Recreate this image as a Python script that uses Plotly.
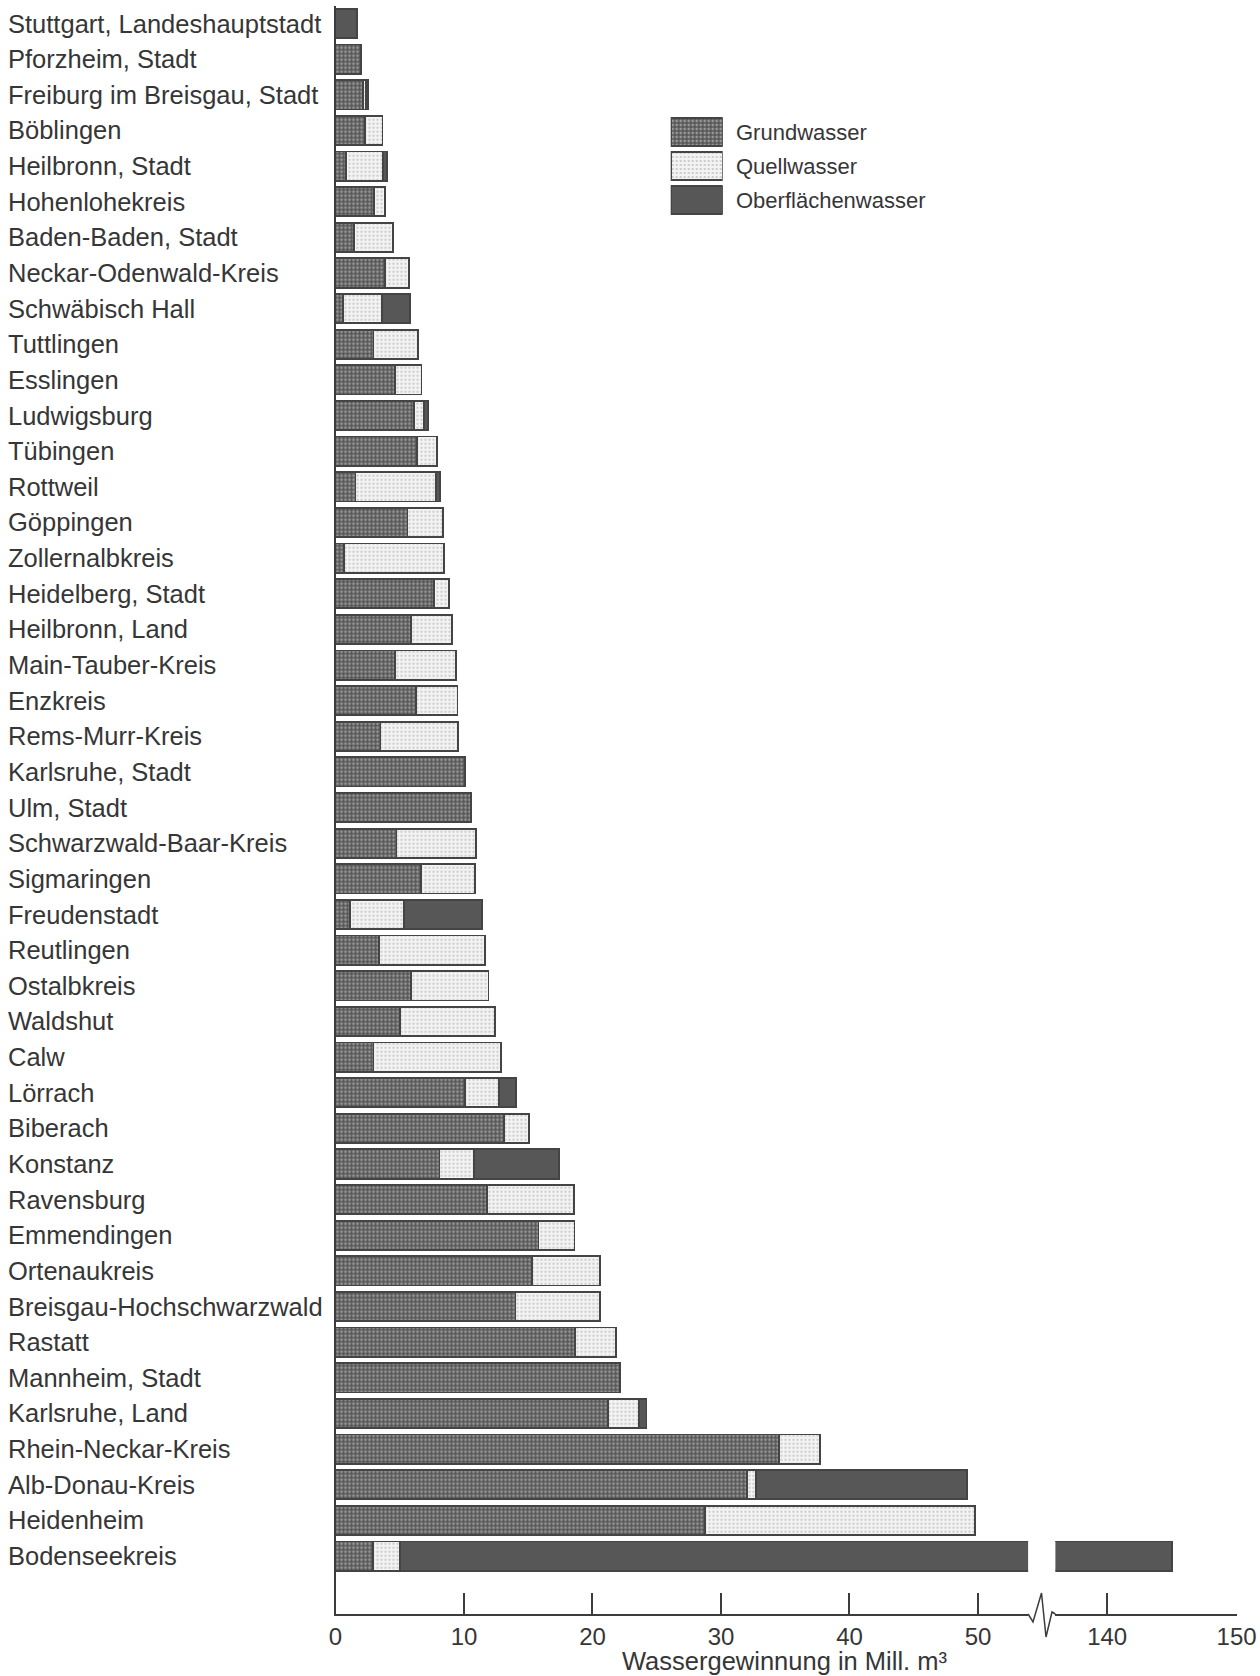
import plotly.graph_objects as go

# ---------------- data ----------------
districts = [
    "Stuttgart, Landeshauptstadt", "Pforzheim, Stadt", "Freiburg im Breisgau, Stadt",
    "Böblingen", "Heilbronn, Stadt", "Hohenlohekreis", "Baden-Baden, Stadt",
    "Neckar-Odenwald-Kreis", "Schwäbisch Hall", "Tuttlingen", "Esslingen",
    "Ludwigsburg", "Tübingen", "Rottweil", "Göppingen", "Zollernalbkreis",
    "Heidelberg, Stadt", "Heilbronn, Land", "Main-Tauber-Kreis", "Enzkreis",
    "Rems-Murr-Kreis", "Karlsruhe, Stadt", "Ulm, Stadt", "Schwarzwald-Baar-Kreis",
    "Sigmaringen", "Freudenstadt", "Reutlingen", "Ostalbkreis", "Waldshut", "Calw",
    "Lörrach", "Biberach", "Konstanz", "Ravensburg", "Emmendingen", "Ortenaukreis",
    "Breisgau-Hochschwarzwald", "Rastatt", "Mannheim, Stadt", "Karlsruhe, Land",
    "Rhein-Neckar-Kreis", "Alb-Donau-Kreis", "Heidenheim", "Bodenseekreis",
]

grundwasser = [
    0, 2.0, 2.15, 2.3, 0.8, 3.0, 1.45, 3.85, 0.6, 2.95, 4.6,
    6.1, 6.35, 1.55, 5.6, 0.65, 7.65, 5.9, 4.6, 6.25, 3.5,
    10.1, 10.55, 4.75, 6.65, 1.15, 3.4, 5.85, 5.0, 2.95, 10.1,
    13.1, 8.1, 11.8, 15.8, 15.3, 14.0, 18.65, 22.15, 21.2, 34.5,
    32.0, 28.75, 2.9,
]
quellwasser = [
    0, 0, 0.2, 1.35, 2.9, 0.85, 3.0, 1.85, 3.0, 3.45, 2.1,
    0.8, 1.55, 6.3, 2.75, 7.8, 1.2, 3.15, 4.8, 3.25, 6.05,
    0, 0, 6.2, 4.2, 4.15, 8.25, 6.05, 7.4, 9.95, 2.65,
    1.95, 2.7, 6.75, 2.8, 5.3, 6.6, 3.2, 0, 2.4, 3.2,
    0.75, 21.0, 2.1,
]
oberflaechenwasser = [
    1.65, 0, 0.2, 0, 0.3, 0, 0, 0, 2.2, 0, 0,
    0.3, 0, 0.3, 0, 0, 0, 0, 0, 0, 0,
    0, 0, 0, 0, 6.1, 0, 0, 0, 0, 1.3,
    0, 6.6, 0, 0, 0, 0, 0, 0, 0.6, 0,
    16.4, 0, 140.0,
]

series_names = ["Grundwasser", "Quellwasser", "Oberflächenwasser"]
x_ticks_left = [0, 10, 20, 30, 40, 50]
x_ticks_right = [140, 150]
axis_title = "Wassergewinnung in Mill. m³"

# ---------------- styling ----------------
W, H = 1260, 1676
FONT = "Liberation Sans, Arial, sans-serif"
TXT = "#363636"
LINE = "#3c3c3c"
OUTLINE = dict(color="#444444", width=1.8)

styles = {
    "Grundwasser": dict(color="#545454",
                        pattern=dict(shape=".", fillmode="overlay", fgcolor="#dcdcdc",
                                     size=4, solidity=0.38)),
    "Quellwasser": dict(color="#f3f3f3",
                        pattern=dict(shape=".", fillmode="overlay", fgcolor="#8a8a8a",
                                     size=4, solidity=0.2)),
    "Oberflächenwasser": dict(color="#575757"),
}

def px_x(p):
    return p / W

def px_y(p):
    return 1 - p / H

# pixel geometry of the broken axis
x0_px, left_end_px = 335.5, 1028.1
right_start_px, right_end_px = 1055.4, 1236.6
left_max = 53.9
right_min, right_max = 136, 150
top_px, axis_px = 5.7, 1614
row = 35.64
y_bottom = (axis_px - 23.5) / row

fig = go.Figure()

def clean(vals):
    return [v if v > 0 else None for v in vals]

values = {"Grundwasser": grundwasser, "Quellwasser": quellwasser,
          "Oberflächenwasser": oberflaechenwasser}

for xa in ["x", "x2"]:
    for name in series_names:
        st = styles[name]
        fig.add_trace(go.Bar(
            y=districts, x=clean(values[name]), orientation="h", name=name,
            xaxis=xa, yaxis="y", showlegend=False,
            marker=dict(color=st["color"], pattern=st.get("pattern"), line=OUTLINE),
            hovertemplate="%{y}: %{x}<extra>" + name + "</extra>",
        ))

# custom legend (large swatches) drawn as a small bar subplot
for name in series_names:
    st = styles[name]
    fig.add_trace(go.Bar(
        y=[name], x=[1], orientation="h", xaxis="x3", yaxis="y3", showlegend=False,
        marker=dict(color=st["color"], pattern=st.get("pattern"), line=OUTLINE),
        hoverinfo="skip",
    ))

axis_common = dict(
    showline=True, linecolor=LINE, linewidth=1.5, ticks="inside", ticklen=21,
    tickwidth=1.5, tickcolor=LINE, showgrid=False, zeroline=False, automargin=False,
    tickfont=dict(family=FONT, size=24, color=TXT), ticklabelstandoff=0,
)

leg_top, leg_bot = 115.0, 217.4

fig.update_layout(
    width=W, height=H, autosize=False,
    margin=dict(l=0, r=0, t=0, b=0, pad=0, autoexpand=False),
    paper_bgcolor="white", plot_bgcolor="white", showlegend=False,
    barmode="stack", bargap=0.18,
    font=dict(family=FONT, color=TXT),
    xaxis=dict(domain=[px_x(x0_px), px_x(left_end_px)], range=[0, left_max],
               tickvals=x_ticks_left, anchor="y", **axis_common),
    xaxis2=dict(domain=[px_x(right_start_px), px_x(right_end_px)],
                range=[right_min, right_max], tickvals=x_ticks_right, anchor="y",
                **axis_common),
    yaxis=dict(domain=[px_y(axis_px), px_y(top_px)], range=[y_bottom, -0.5],
               categoryorder="array", categoryarray=districts, showticklabels=False,
               showline=True, linecolor=LINE, linewidth=1.5, ticks="",
               showgrid=False, zeroline=False, anchor="x", automargin=False),
    xaxis3=dict(domain=[px_x(670.7), px_x(722.7)], range=[0, 1], visible=False,
                anchor="y3"),
    yaxis3=dict(domain=[px_y(leg_bot), px_y(leg_top)], range=[2.5, -0.5],
                categoryorder="array", categoryarray=series_names, visible=False,
                anchor="x3"),
)

annotations = []
for d in districts:
    annotations.append(dict(
        x=px_x(7), xref="paper", y=d, yref="y", xanchor="left", yanchor="middle",
        text=d, showarrow=False, borderpad=0,
        font=dict(family=FONT, size=25.5, color=TXT),
    ))
for name in series_names:
    annotations.append(dict(
        x=px_x(735), xref="paper", y=name, yref="y3", xanchor="left",
        yanchor="middle", text=name, showarrow=False, borderpad=0,
        font=dict(family=FONT, size=22, color=TXT),
    ))
annotations.append(dict(
    x=px_x(784), xref="paper", y=0, yref="paper", xanchor="center",
    yanchor="bottom", text=axis_title, showarrow=False, borderpad=0,
    font=dict(family=FONT, size=25.5, color=TXT),
))
fig.update_layout(annotations=annotations)

# zig-zag break marker on the x axis line
zz = [(left_end_px, axis_px), (1033.0, 1622), (1041.5, 1593), (1046.0, 1637),
      (1052.0, 1612), (right_start_px, axis_px)]
path = "M " + " L ".join(f"{px_x(a):.5f},{px_y(b):.5f}" for a, b in zz)
fig.add_shape(type="path", path=path, xref="paper", yref="paper",
              line=dict(color=LINE, width=1.5))

fig.write_html(
    "out.html",
    config={"displayModeBar": False, "responsive": False},
    default_width="1260px", default_height="1676px",
    post_script="document.body.style.margin='0px';document.body.style.overflow='hidden';",
)
